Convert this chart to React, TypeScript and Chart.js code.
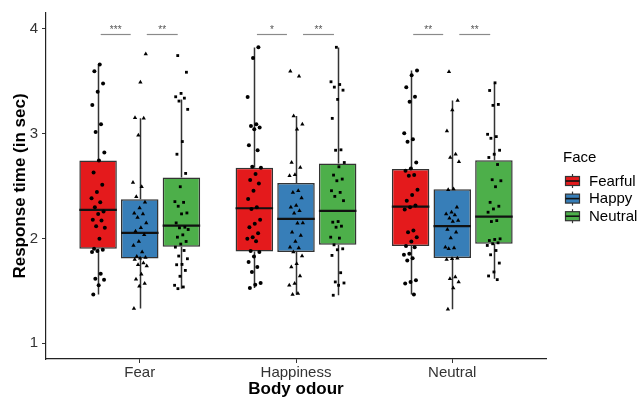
import React, { useEffect, useRef } from 'react';
import { Chart, registerables } from 'chart.js';
Chart.register(...registerables);

const categories = ['Fear', 'Happiness', 'Neutral'];
const faces = ['Fearful', 'Happy', 'Neutral'];
const faceColors = ['#E41A1C', '#377EB8', '#4DAF4A'];
const pointStyles = ['circle', 'triangle', 'rect'];
const yTicks = [1, 2, 3, 4];

// box statistics, one value per body odour category
const fearfulLow = [1.464, 1.528, 1.464];
const fearfulQ1 = [1.901, 1.876, 1.927];
const fearfulMedian = [2.272, 2.288, 2.303];
const fearfulQ3 = [2.744, 2.673, 2.661];
const fearfulHigh = [3.658, 3.822, 3.601];

const happyLow = [1.331, 1.464, 1.325];
const happyQ1 = [1.809, 1.87, 1.813];
const happyMedian = [2.053, 2.186, 2.117];
const happyQ3 = [2.373, 2.528, 2.468];
const happyHigh = [3.145, 3.167, 3.316];

const neutralLow = [1.521, 1.458, 1.616];
const neutralQ1 = [1.92, 1.939, 1.949];
const neutralMedian = [2.123, 2.262, 2.208];
const neutralQ3 = [2.582, 2.715, 2.746];
const neutralHigh = [3.326, 3.822, 3.478];

// individual response times
const fearfulFear = [3.658,3.595,3.478,3.399,3.272,3.088,3.016,2.819,2.743,2.629,2.512,2.443,2.382,2.344,2.297,2.256,2.234,2.177,2.170,2.117,2.101,1.996,1.901,1.892,1.879,1.870,1.664,1.616,1.607,1.553,1.464];
const happyFear = [3.759,3.490,3.152,3.145,2.984,2.534,2.493,2.398,2.344,2.291,2.240,2.234,2.199,2.148,2.101,2.069,2.034,1.971,1.933,1.870,1.828,1.819,1.812,1.800,1.765,1.749,1.737,1.658,1.610,1.569,1.543,1.331];
const neutralFear = [3.744,3.585,3.383,3.351,3.338,3.310,3.231,2.924,2.803,2.620,2.493,2.351,2.344,2.307,2.243,2.234,2.148,2.107,2.101,2.085,2.034,2.012,1.971,1.946,1.917,1.885,1.832,1.806,1.752,1.749,1.695,1.639,1.553,1.537,1.521];
const fearfulHappiness = [3.823,3.721,3.348,3.088,3.072,3.057,3.041,2.889,2.841,2.683,2.674,2.614,2.557,2.525,2.455,2.376,2.297,2.281,2.177,2.139,2.107,2.050,2.012,1.996,1.974,1.879,1.870,1.828,1.775,1.727,1.680,1.575,1.559,1.528];
const happyHappiness = [3.595,3.547,3.167,3.088,3.041,2.724,2.677,2.607,2.598,2.455,2.439,2.386,2.313,2.297,2.265,2.240,2.148,2.145,2.060,2.028,1.971,1.917,1.908,1.870,1.832,1.759,1.727,1.642,1.569,1.553,1.474,1.464];
const neutralHappiness = [3.823,3.494,3.468,3.443,3.414,3.326,3.145,2.845,2.841,2.724,2.683,2.604,2.566,2.550,2.455,2.439,2.401,2.360,2.161,2.155,2.117,2.107,2.012,2.003,1.939,1.901,1.892,1.838,1.673,1.585,1.575,1.553,1.458];
const fearfulNeutral = [3.601,3.557,3.443,3.351,3.304,3.003,2.946,2.921,2.724,2.667,2.645,2.604,2.598,2.465,2.414,2.360,2.313,2.297,2.275,2.075,2.060,2.012,1.971,1.927,1.917,1.854,1.844,1.812,1.790,1.601,1.585,1.569,1.464];
const happyNeutral = [3.589,3.316,3.225,3.025,2.803,2.772,2.731,2.471,2.465,2.297,2.250,2.234,2.224,2.193,2.170,2.161,2.085,2.060,2.003,1.917,1.908,1.901,1.812,1.806,1.800,1.632,1.616,1.585,1.528,1.325];
const neutralNeutral = [3.484,3.411,3.278,3.269,2.993,2.971,2.955,2.841,2.803,2.772,2.705,2.560,2.550,2.493,2.344,2.307,2.281,2.250,2.170,2.161,1.996,1.990,1.980,1.958,1.949,1.933,1.885,1.844,1.765,1.680,1.642,1.607];

// significance labels: per category, [Fearful vs Happy, Happy vs Neutral]
const sigLabels = [['***', '**'], ['*', '**'], ['**', '**']];
const sigLevel = 3.946;

const FONT = '"Liberation Sans", Arial, sans-serif';

const boxStats = [
  { low: fearfulLow, q1: fearfulQ1, med: fearfulMedian, q3: fearfulQ3, high: fearfulHigh },
  { low: happyLow, q1: happyQ1, med: happyMedian, q3: happyQ3, high: happyHigh },
  { low: neutralLow, q1: neutralQ1, med: neutralMedian, q3: neutralQ3, high: neutralHigh },
];
const pointSets = [
  [fearfulFear, fearfulHappiness, fearfulNeutral],
  [happyFear, happyHappiness, happyNeutral],
  [neutralFear, neutralHappiness, neutralNeutral],
];

const DODGE = 0.8 / 3;
const JIT = 0.045;

export default function App() {
  const ref = useRef<HTMLCanvasElement | null>(null);
  useEffect(() => {
    const canvas = ref.current;
    if (!canvas) return;

    const barSets = faces.map((f, fi) => ({
      type: 'bar' as const,
      label: f,
      data: categories.map((_, ci) => ({ x: ci + 1, y: [boxStats[fi].q1[ci], boxStats[fi].q3[ci]] })),
      backgroundColor: faceColors[fi],
      borderColor: '#333333',
      borderWidth: 1.5,
      borderSkipped: false,
      barPercentage: 0.9,
      categoryPercentage: 0.8,
      order: 2,
    }));

    const pointDatasets = faces.map((f, fi) => {
      const pts: { x: number; y: number }[] = [];
      categories.forEach((_, ci) => {
        pointSets[fi][ci].forEach((v, k) => {
          const frac = ((k + 1) * 0.6180339887 + fi * 0.31 + ci * 0.17) % 1;
          pts.push({ x: ci + 1 + (fi - 1) * DODGE + (frac - 0.5) * 2 * JIT, y: v });
        });
      });
      return {
        type: 'scatter' as const,
        label: f + ' points',
        data: pts,
        pointStyle: pointStyles[fi],
        pointRadius: fi === 1 ? 2.5 : 2,
        backgroundColor: '#000000',
        borderColor: '#000000',
        borderWidth: 0,
        order: 1,
      };
    });

    const boxPlugin = {
      id: 'boxParts',
      beforeDatasetsDraw(chart: any) {
        const ctx = chart.ctx;
        const ys = chart.scales.y;
        ctx.save();
        ctx.strokeStyle = '#333333';
        ctx.lineWidth = 1.5;
        for (let fi = 0; fi < 3; fi++) {
          const meta = chart.getDatasetMeta(fi);
          meta.data.forEach((el: any, ci: number) => {
            const x = Math.round(el.x) + 0.5;
            ctx.beginPath();
            ctx.moveTo(x, ys.getPixelForValue(boxStats[fi].high[ci]));
            ctx.lineTo(x, ys.getPixelForValue(boxStats[fi].q3[ci]));
            ctx.moveTo(x, ys.getPixelForValue(boxStats[fi].q1[ci]));
            ctx.lineTo(x, ys.getPixelForValue(boxStats[fi].low[ci]));
            ctx.stroke();
          });
        }
        ctx.restore();
      },
      afterDatasetDraw(chart: any, args: any) {
        const fi = args.index;
        if (fi > 2) return;
        const ctx = chart.ctx;
        const ys = chart.scales.y;
        ctx.save();
        ctx.strokeStyle = '#111111';
        ctx.lineWidth = 2.2;
        args.meta.data.forEach((el: any, ci: number) => {
          const y = ys.getPixelForValue(boxStats[fi].med[ci]);
          ctx.beginPath();
          ctx.moveTo(el.x - el.width / 2, y);
          ctx.lineTo(el.x + el.width / 2, y);
          ctx.stroke();
        });
        ctx.restore();
      },
      afterDraw(chart: any) {
        const ctx = chart.ctx;
        const xs = chart.scales.x;
        const ys = chart.scales.y;
        const area = chart.chartArea;
        ctx.save();
        // significance brackets
        const yb = Math.round(ys.getPixelForValue(sigLevel)) + 0.5;
        ctx.strokeStyle = '#8a8a8a';
        ctx.lineWidth = 1.2;
        ctx.fillStyle = '#555555';
        ctx.font = `10px ${FONT}`;
        ctx.textAlign = 'center';
        ctx.textBaseline = 'alphabetic';
        categories.forEach((_, ci) => {
          const spans = [[-0.25, -0.058], [0.045, 0.243]];
          spans.forEach((sp, si) => {
            const x0 = xs.getPixelForValue(ci + 1 + sp[0]);
            const x1 = xs.getPixelForValue(ci + 1 + sp[1]);
            ctx.beginPath();
            ctx.moveTo(x0, yb);
            ctx.lineTo(x1, yb);
            ctx.stroke();
            ctx.fillText(sigLabels[ci][si], (x0 + x1) / 2, yb - 1.5);
          });
        });
        // axis titles
        ctx.fillStyle = '#000000';
        ctx.font = `bold 17px ${FONT}`;
        ctx.textAlign = 'center';
        ctx.textBaseline = 'middle';
        ctx.fillText('Body odour', (area.left + area.right) / 2, 389);
        ctx.save();
        ctx.translate(20, (area.top + area.bottom) / 2);
        ctx.rotate(-Math.PI / 2);
        ctx.fillText('Response time (in sec)', 0, 0);
        ctx.restore();
        // legend
        ctx.font = `15px ${FONT}`;
        ctx.textAlign = 'left';
        ctx.fillText('Face', 563, 158);
        faces.forEach((f, fi) => {
          const cy = 181 + fi * 17.6;
          const cx = 572.5;
          ctx.strokeStyle = '#333333';
          ctx.lineWidth = 1.2;
          ctx.beginPath();
          ctx.moveTo(cx, cy - 7);
          ctx.lineTo(cx, cy + 7);
          ctx.stroke();
          ctx.fillStyle = faceColors[fi];
          ctx.fillRect(cx - 7, cy - 4.5, 14, 9);
          ctx.strokeRect(cx - 7, cy - 4.5, 14, 9);
          ctx.strokeStyle = '#111111';
          ctx.lineWidth = 1.6;
          ctx.beginPath();
          ctx.moveTo(cx - 7, cy);
          ctx.lineTo(cx + 7, cy);
          ctx.stroke();
          ctx.fillStyle = '#000000';
          ctx.fillText(f, 589, cy + 0.5);
        });
        ctx.restore();
      },
    };

    const chart = new Chart(canvas, {
      type: 'bar',
      data: { datasets: [...barSets, ...pointDatasets] as any },
      options: {
        responsive: false,
        animation: false,
        devicePixelRatio: 1,
        layout: { padding: { top: 13, right: 92, left: 0, bottom: 0 } },
        plugins: { legend: { display: false }, tooltip: { enabled: false } },
        scales: {
          x: {
            type: 'linear',
            min: 0.4,
            max: 3.6,
            offset: false,
            grid: { display: true, drawOnChartArea: false, drawTicks: true, tickLength: 4, color: '#333333', offset: false },
            border: { display: true, color: '#222222', width: 1.2 },
            ticks: {
              color: '#333333',
              font: { size: 15, family: FONT },
              padding: 1,
              autoSkip: false,
              maxRotation: 0,
              callback: (v: any) => categories[Number(v) - 1] ?? '',
            },
            afterBuildTicks: (s: any) => { s.ticks = categories.map((_, i) => ({ value: i + 1 })); },
            afterFit: (s: any) => { s.height = 39; },
          },
          y: {
            type: 'linear',
            min: 0.85,
            max: 4.15,
            grid: { display: true, drawOnChartArea: false, drawTicks: true, tickLength: 4, color: '#333333' },
            border: { display: true, color: '#222222', width: 1.2 },
            ticks: { color: '#333333', font: { size: 15, family: FONT }, padding: 4 },
            afterBuildTicks: (s: any) => { s.ticks = yTicks.map((v) => ({ value: v })); },
            afterFit: (s: any) => { s.width = 46; },
          },
        },
      } as any,
      plugins: [boxPlugin],
    });
    return () => chart.destroy();
  }, []);

  return (
    <canvas
      ref={ref}
      width={638}
      height={398}
      style={{ position: 'fixed', left: 0, top: 0, width: 638, height: 398 }}
    />
  );
}
